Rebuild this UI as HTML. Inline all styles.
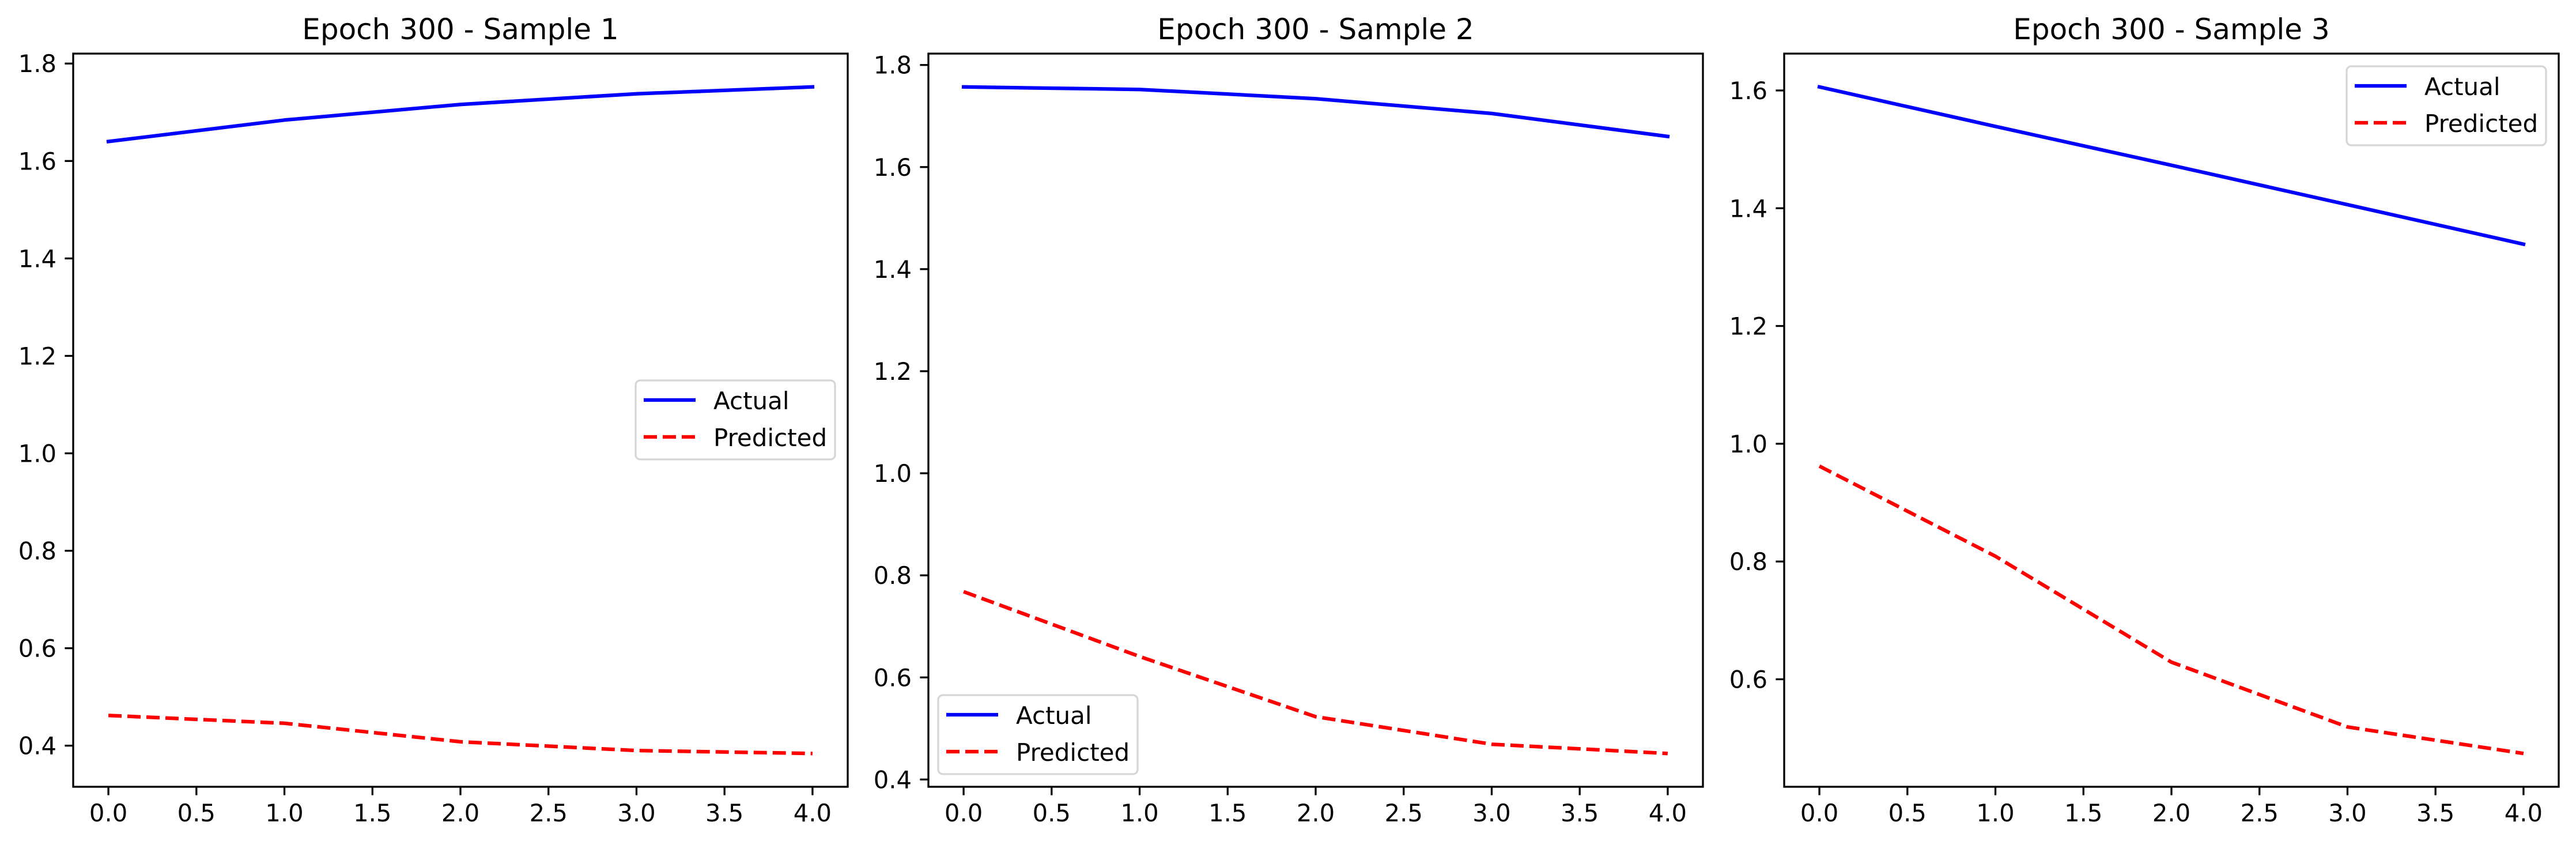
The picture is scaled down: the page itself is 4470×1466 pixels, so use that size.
<!DOCTYPE html>
<html><head><meta charset="utf-8"><style>
html,body{margin:0;padding:0;background:#fff;}
svg{display:block;font-family:"DejaVu Sans","Liberation Sans",sans-serif;}
</style></head><body>
<svg id="fig" width="4470" height="1466" viewBox="0 0 4470 1466" xmlns="http://www.w3.org/2000/svg"></svg>
<script>
const xValues = [0, 1, 2, 3, 4];
const xTickLabels = ["0.0","0.5","1.0","1.5","2.0","2.5","3.0","3.5","4.0"];
const titles = ["Epoch 300 - Sample 1","Epoch 300 - Sample 2","Epoch 300 - Sample 3"];
const actual1 = [1.640, 1.684, 1.716, 1.738, 1.752];
const predicted1 = [0.462, 0.446, 0.408, 0.390, 0.384];
const actual2 = [1.757, 1.752, 1.734, 1.705, 1.660];
const predicted2 = [0.768, 0.641, 0.523, 0.469, 0.451];
const actual3 = [1.606, 1.539, 1.473, 1.406, 1.339];
const predicted3 = [0.962, 0.809, 0.629, 0.519, 0.474];
const yTicks1 = ["0.4","0.6","0.8","1.0","1.2","1.4","1.6","1.8"];
const yTicks2 = ["0.4","0.6","0.8","1.0","1.2","1.4","1.6","1.8"];
const yTicks3 = ["0.6","0.8","1.0","1.2","1.4","1.6"];
const legendLabels = ["Actual","Predicted"];

const NS = "http://www.w3.org/2000/svg";
const svg = document.getElementById('fig');
function mk(tag, attrs, parent){
  const e = document.createElementNS(NS, tag);
  for (const k in attrs) e.setAttribute(k, attrs[k]);
  (parent||svg).appendChild(e);
  return e;
}
const panels = [
  {left:127, actual:actual1, pred:predicted1, yt:yTicks1, legend:'mid-right'},
  {left:1611, actual:actual2, pred:predicted2, yt:yTicks2, legend:'lower-left'},
  {left:3096, actual:actual3, pred:predicted3, yt:yTicks3, legend:'upper-right'}
];
const W = 1344, TOP = 93, H = 1272, BOT = TOP + H;

panels.forEach((p, i) => {
  const g = mk('g', {});
  
  
  const all = p.actual.concat(p.pred);
  const ymin = Math.min(...all), ymax = Math.max(...all);
  const yr = ymax - ymin;
  const y0 = ymin - 0.05*yr, y1 = ymax + 0.05*yr;
  const xmin = Math.min(...xValues), xmax = Math.max(...xValues);
  const xr = xmax - xmin;
  const x0 = xmin - 0.05*xr, x1 = xmax + 0.05*xr;
  const X = v => p.left + (v - x0)/(x1 - x0)*W;
  const Y = v => TOP + (y1 - v)/(y1 - y0)*H;

  // title
  const t = mk('text', {x: p.left + W/2, y: 68, 'font-size': 50, 'text-anchor':'middle', fill:'#000'}, g);
  t.textContent = titles[i];
  
  

  // x ticks
  xTickLabels.forEach(lbl => {
    const v = parseFloat(lbl);
    const xx = X(v);
    const tk = mk('line', {x1:xx, x2:xx, y1:BOT, y2:BOT+14.6, stroke:'#000', 'stroke-width':3.3}, g);
    
    
    const tl = mk('text', {x:xx, y:BOT+60, 'font-size':41.7, 'text-anchor':'middle', fill:'#000'}, g);
    tl.textContent = lbl;
    
    
  });
  // y ticks
  p.yt.forEach(lbl => {
    const v = parseFloat(lbl);
    const yy = Y(v);
    const tk = mk('line', {x1:p.left-14.6, x2:p.left, y1:yy, y2:yy, stroke:'#000', 'stroke-width':3.3}, g);
    
    
    const tl = mk('text', {x:p.left-29, y:yy+15, 'font-size':41.7, 'text-anchor':'end', fill:'#000'}, g);
    tl.textContent = lbl;
    
    
  });

  // series
  const ptsA = xValues.map((x,k)=>X(x).toFixed(1)+','+Y(p.actual[k]).toFixed(1)).join(' ');
  const la = mk('polyline', {points:ptsA, fill:'none', stroke:'#0000ff', 'stroke-width':6.25, 'stroke-linecap':'square', 'stroke-linejoin':'round'}, g);
  
  
  const ptsP = xValues.map((x,k)=>X(x).toFixed(1)+','+Y(p.pred[k]).toFixed(1)).join(' ');
  const lp = mk('polyline', {points:ptsP, fill:'none', stroke:'#ff0000', 'stroke-width':6.25, 'stroke-dasharray':'23 10', 'stroke-linejoin':'round'}, g);
  
  

  // frame
  const fr = mk('rect', {x:p.left, y:TOP, width:W, height:H, fill:'none', stroke:'#000', 'stroke-width':3.3}, g);
  
  

  // legend
  const LW = 346, LH = 137;
  let lx, ly;
  if (p.legend === 'mid-right'){ lx = p.left + W - 22 - LW; ly = 660; }
  else if (p.legend === 'lower-left'){ lx = p.left + 17; ly = BOT - 22 - LH; }
  else { lx = p.left + W - 22 - LW; ly = TOP + 22; }
  const lg = mk('g', {}, g);
  
  
  mk('rect', {x:lx, y:ly, width:LW, height:LH, rx:8, fill:'#fff', 'fill-opacity':0.8, stroke:'#d6d6d6', 'stroke-width':3.3}, lg);
  const rows = [{c:'#0000ff', d:null, dy:34}, {c:'#ff0000', d:'23 10', dy:98}];
  rows.forEach((r, k) => {
    const e = mk('g', {}, lg);
    
    
    const ln = mk('line', {x1:lx+14, x2:lx+104, y1:ly+r.dy, y2:ly+r.dy, stroke:r.c, 'stroke-width':6.25}, e);
    if (r.d) ln.setAttribute('stroke-dasharray', r.d);
    const tx = mk('text', {x:lx+135, y:ly+r.dy+16, 'font-size':42, fill:'#000'}, e);
    tx.textContent = legendLabels[k];
  });
});
</script>
</body></html>
